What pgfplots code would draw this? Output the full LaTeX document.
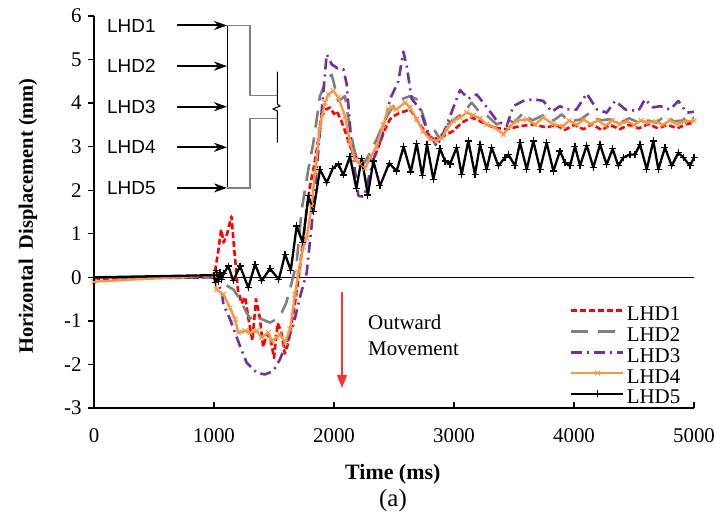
\documentclass[border=0pt]{standalone}
\usepackage{pgfplots}
\pgfplotsset{compat=1.18}
\usepackage{fontspec}
\setmainfont{Liberation Serif}
\newfontfamily\arial{Liberation Sans}
\usetikzlibrary{arrows.meta}
\definecolor{cred}{HTML}{FF0000}
\definecolor{cgray}{HTML}{808080}
\definecolor{cpurple}{HTML}{7030A0}
\definecolor{corange}{HTML}{F79646}
\definecolor{carrow}{HTML}{FF3333}

\pgfplotstableread[row sep=\\]{
x y\\
0 -0.03\\ 1000 0.0\\ 1030 0.5\\ 1060 1.1\\ 1080 0.8\\ 1110 1.0\\ 1145 1.4\\ 1170 0.6\\ 1200 -0.3\\ 1230 -0.6\\
1260 -0.45\\ 1290 -1.0\\ 1320 -1.45\\ 1350 -0.5\\ 1380 -0.9\\ 1410 -1.6\\ 1440 -1.3\\ 1470 -1.4\\ 1500 -1.85\\
1530 -1.05\\ 1560 -1.25\\ 1590 -1.75\\ 1620 -1.5\\ 1650 -1.0\\ 1680 -0.5\\ 1710 0.1\\ 1740 0.8\\ 1770 1.5\\
1800 2.1\\ 1830 2.5\\ 1860 3.0\\ 1897 3.7\\ 1930 3.85\\ 1967 3.9\\ 2000 3.75\\ 2022 3.82\\ 2060 3.6\\ 2100 3.3\\
2133 3.01\\ 2170 2.8\\ 2203 2.71\\ 2258 2.63\\ 2300 2.68\\ 2342 2.79\\ 2383 3.09\\ 2425 3.4\\ 2467 3.63\\
2510 3.72\\ 2550 3.78\\ 2600 3.82\\ 2633 3.86\\ 2689 3.63\\ 2730 3.45\\ 2772 3.32\\ 2828 3.17\\ 2911 3.24\\
2994 3.36\\ 3064 3.55\\ 3147 3.67\\ 3244 3.55\\ 3328 3.44\\ 3439 3.40\\ 3550 3.47\\ 3661 3.51\\ 3772 3.44\\
3850 3.5\\ 3920 3.38\\ 4000 3.5\\ 4080 3.4\\ 4150 3.52\\ 4230 3.38\\ 4300 3.5\\ 4380 3.4\\ 4460 3.5\\
4540 3.42\\ 4620 3.52\\ 4700 3.42\\ 4780 3.5\\ 4860 3.42\\ 4940 3.52\\ 5000 3.55\\
}\tabA

\pgfplotstableread[row sep=\\]{
x y\\
0 0.0\\ 1000 0.0\\ 1064 -0.12\\ 1161 -0.28\\ 1217 -0.5\\ 1260 -0.75\\ 1300 -0.95\\ 1350 -0.85\\ 1397 -0.96\\
1467 -1.04\\ 1522 -0.96\\ 1564 -0.81\\ 1600 -0.6\\ 1633 -0.28\\ 1689 0.34\\ 1731 1.56\\ 1786 2.48\\ 1828 3.09\\
1883 4.16\\ 1939 4.55\\ 1981 4.65\\ 2036 4.05\\ 2092 4.16\\ 2133 3.4\\ 2175 2.86\\ 2231 2.56\\ 2272 2.71\\
2356 3.17\\ 2425 3.63\\ 2494 3.93\\ 2564 4.09\\ 2633 4.16\\ 2689 4.09\\ 2731 3.82\\ 2772 3.44\\ 2842 3.36\\
2883 3.17\\ 2925 3.47\\ 2990 3.6\\ 3078 3.78\\ 3147 4.01\\ 3217 3.78\\ 3280 3.7\\ 3356 3.51\\ 3439 3.63\\
3500 3.55\\ 3578 3.78\\ 3650 3.6\\ 3758 3.74\\ 3830 3.6\\ 3897 3.74\\ 3960 3.58\\ 4050 3.62\\ 4133 3.78\\
4210 3.6\\ 4300 3.63\\ 4380 3.55\\ 4460 3.65\\ 4540 3.55\\ 4620 3.6\\ 4690 3.55\\ 4758 3.72\\ 4830 3.58\\
4900 3.6\\ 4967 3.74\\ 5000 3.65\\
}\tabB

\pgfplotstableread[row sep=\\]{
x y\\
0 0.0\\ 1000 0.0\\ 1064 -0.31\\ 1078 -0.62\\ 1133 -0.96\\ 1217 -1.58\\ 1272 -1.96\\ 1356 -2.19\\ 1425 -2.23\\
1494 -2.15\\ 1550 -1.88\\ 1606 -1.5\\ 1661 -1.1\\ 1717 -0.45\\ 1772 0.1\\ 1814 1.2\\ 1860 2.6\\ 1900 3.9\\
1939 5.12\\ 1981 4.89\\ 2030 4.8\\ 2078 4.78\\ 2106 4.43\\ 2147 3.01\\ 2203 1.87\\ 2250 1.85\\ 2300 2.4\\
2350 2.9\\ 2397 3.2\\ 2467 4.09\\ 2536 4.5\\ 2578 5.18\\ 2606 4.85\\ 2647 4.1\\ 2717 3.86\\ 2772 3.4\\
2856 3.01\\ 2910 3.3\\ 2967 3.7\\ 3050 4.3\\ 3120 4.1\\ 3189 4.2\\ 3244 4.01\\ 3356 3.6\\ 3439 3.47\\
3494 3.93\\ 3578 4.05\\ 3661 4.09\\ 3744 4.05\\ 3814 3.8\\ 3883 3.93\\ 3939 3.86\\ 4020 3.85\\ 4106 4.22\\
4189 3.86\\ 4272 3.78\\ 4342 4.05\\ 4430 3.85\\ 4536 3.82\\ 4592 4.09\\ 4660 3.9\\ 4717 3.93\\ 4800 3.85\\
4869 4.05\\ 4939 3.78\\ 5000 3.8\\
}\tabC

\pgfplotstableread[row sep=\\]{
x y\\
0 -0.1\\ 1000 0.05\\ 1022 -0.28\\ 1078 -0.39\\ 1133 -0.7\\ 1175 -0.96\\ 1203 -1.27\\ 1258 -1.23\\ 1300 -1.27\\
1356 -1.23\\ 1397 -1.38\\ 1453 -1.27\\ 1481 -1.46\\ 1522 -1.38\\ 1550 -1.31\\ 1592 -1.5\\ 1633 -1.19\\
1675 -0.39\\ 1703 0.11\\ 1744 0.7\\ 1772 0.9\\ 1814 1.64\\ 1842 2.4\\ 1883 3.47\\ 1925 4.01\\ 1953 4.2\\
1994 4.28\\ 2036 4.13\\ 2092 3.7\\ 2133 3.1\\ 2175 2.7\\ 2217 2.6\\ 2258 2.5\\ 2300 2.75\\ 2356 3.01\\
2410 3.5\\ 2453 3.86\\ 2481 3.9\\ 2522 3.86\\ 2592 4.01\\ 2633 3.9\\ 2689 3.63\\ 2744 3.35\\ 2800 3.17\\
2856 3.13\\ 2900 3.2\\ 2939 3.4\\ 2994 3.59\\ 3050 3.67\\ 3106 3.78\\ 3161 3.72\\ 3217 3.65\\ 3272 3.51\\
3342 3.44\\ 3411 3.28\\ 3467 3.47\\ 3522 3.59\\ 3606 3.63\\ 3675 3.51\\ 3744 3.67\\ 3828 3.51\\ 3911 3.47\\
3960 3.6\\ 4020 3.5\\ 4080 3.62\\ 4140 3.52\\ 4200 3.6\\ 4260 3.48\\ 4320 3.6\\ 4380 3.52\\ 4440 3.58\\
4500 3.5\\ 4560 3.6\\ 4620 3.55\\ 4680 3.58\\ 4740 3.5\\ 4800 3.6\\ 4860 3.52\\ 4920 3.58\\ 5000 3.6\\
}\tabD

\pgfplotstableread[row sep=\\]{
x y\\
0 0.0\\ 1000 0.05\\ 1010 -0.12\\ 1020 0.15\\ 1035 -0.1\\ 1050 0.12\\ 1065 -0.05\\ 1080 0.08\\ 1119 0.26\\
1161 -0.08\\ 1217 0.26\\ 1286 -0.24\\ 1342 0.3\\ 1397 -0.08\\ 1467 0.2\\ 1540 -0.05\\ 1592 0.53\\ 1640 0.16\\
1689 1.18\\ 1739 0.8\\ 1786 1.87\\ 1828 1.52\\ 1883 2.48\\ 1939 2.17\\ 1990 2.5\\ 2036 2.6\\ 2078 2.35\\
2133 2.77\\ 2186 2.04\\ 2231 2.73\\ 2282 1.89\\ 2328 2.67\\ 2383 2.1\\ 2460 2.62\\ 2522 2.44\\ 2580 3.0\\
2640 2.42\\ 2689 3.07\\ 2735 2.34\\ 2775 3.05\\ 2828 2.25\\ 2883 2.96\\ 2925 2.67\\ 2967 2.6\\ 3022 2.98\\
3064 2.36\\ 3119 3.13\\ 3175 2.36\\ 3217 3.05\\ 3272 2.48\\ 3314 2.98\\ 3369 2.56\\ 3425 2.75\\ 3453 2.82\\
3508 2.56\\ 3550 3.09\\ 3606 2.48\\ 3661 3.13\\ 3717 2.48\\ 3772 3.09\\ 3828 2.44\\ 3883 2.9\\ 3925 2.63\\
3967 2.56\\ 4008 3.01\\ 4050 2.56\\ 4106 3.03\\ 4161 2.52\\ 4217 3.05\\ 4272 2.59\\ 4322 2.95\\ 4369 2.56\\
4411 2.75\\ 4467 2.82\\ 4508 2.82\\ 4550 3.05\\ 4606 2.48\\ 4661 3.13\\ 4703 2.48\\ 4758 2.98\\ 4814 2.56\\
4869 2.86\\ 4911 2.75\\ 4967 2.56\\ 5000 2.75\\
}\tabE

\begin{document}
\begin{tikzpicture}[x=1bp,y=1bp]
\path[use as bounding box] (0,0) rectangle (715,528);
\begin{axis}[
  at={(94bp,120bp)}, anchor=south west, scale only axis,
  width=600bp, height=392bp,
  xmin=0, xmax=5000, ymin=-3, ymax=6,
  axis lines=left, axis line style={-, line width=1.8bp, black},
  xtick={0,1000,2000,3000,4000,5000},
  ytick={-3,-2,-1,0,1,2,3,4,5,6},
  tick align=inside, major tick length=6bp,
  tick style={black, line width=1.3bp},
  ytick style={xshift=-6bp},
  extra y ticks={0}, extra y tick labels={},
  extra y tick style={grid=major, major grid style={black, line width=1.1bp}, ytick style={draw=none}},
  scaled ticks=false,
  /pgf/number format/assume math mode=true,
  /pgf/number format/1000 sep={},
  ticklabel style={font=\fontsize{21}{24}\selectfont},
  yticklabel style={xshift=-9bp},
  xticklabel style={yshift=-17bp},
  xlabel={\textbf{Time (ms)}},
  ylabel={\textbf{Horizontal\ \ Displacement (mm)}},
  xlabel style={font=\fontsize{22}{24}\selectfont, at={(axis description cs:0.498,-0.168)}, anchor=center},
  ylabel style={font=\fontsize{20.5}{24}\selectfont, at={(axis description cs:-0.11,0.49)}, anchor=center},
  legend image code/.code={\draw[mark repeat=2,mark phase=2,#1] plot coordinates {(0bp,5bp) (26bp,5bp) (52bp,5bp)};},
  legend style={at={(axis description cs:0.7933,0.2587)}, anchor=north west,
    draw=none, fill=none, inner sep=0pt, row sep=2.75bp, column sep=2bp,
    font=\fontsize{21}{21}\selectfont,
    nodes={inner sep=0pt, text height=14bp, text depth=4bp}},
  legend cell align=left,
  line join=round,
]
\addplot[cred, line width=2.6bp, dash pattern=on 6bp off 3bp] table[x=x,y=y] {\tabA};
\addlegendentry{LHD1}
\addplot[cgray, line width=2.6bp, dash pattern=on 17bp off 10bp] table[x=x,y=y] {\tabB};
\addlegendentry{LHD2}
\addplot[cpurple, line width=2.6bp, dash pattern=on 11bp off 5bp on 2bp off 5bp] table[x=x,y=y] {\tabC};
\addlegendentry{LHD3}
\addplot[corange, line width=2.3bp, mark=x, mark size=3.5bp, mark options={solid, line width=1bp}] table[x=x,y=y] {\tabD};
\addlegendentry{LHD4}
\addplot[black, line width=2.3bp, mark=+, mark size=3.5bp, mark options={solid, line width=1.2bp}] table[x=x,y=y] {\tabE};
\addlegendentry{LHD5}
\end{axis}
% schematic
\foreach \i/\yy in {1/502.5, 2/461.9, 3/421.3, 4/380.7, 5/340.1} {
  \node[anchor=west, inner sep=0pt, font=\arial\fontsize{19}{19}\selectfont] at (107,\yy) {LHD\i};
  \draw[line width=2bp, -{Stealth[length=13bp, width=9bp]}] (177,\yy) -- (227,\yy);
}
\draw[line width=1bp] (227,502.5) -- (227,340.1);
\draw[cgray, line width=1.3bp] (227,502.5) -- (250,502.5) -- (250,432.3) -- (277,432.3);
\draw[cgray, line width=1.3bp] (227,340.1) -- (250,340.1) -- (250,409.7) -- (277,409.7);
\draw[line width=1bp] (277.3,456.3) -- (277.3,424) -- (280,422) -- (273,419) -- (277.3,417) -- (277.3,385.3);
% outward movement
\draw[carrow, line width=1.6bp, -{Triangle[length=13bp, width=10bp]}] (342,236) -- (342,140);
\node[anchor=west, align=left, inner sep=0pt, font=\fontsize{21}{26}\selectfont] at (368,193) {Outward\\Movement};
\node[font=\fontsize{25}{25}\selectfont] at (393,27) {(a)};
\end{tikzpicture}
\end{document}
